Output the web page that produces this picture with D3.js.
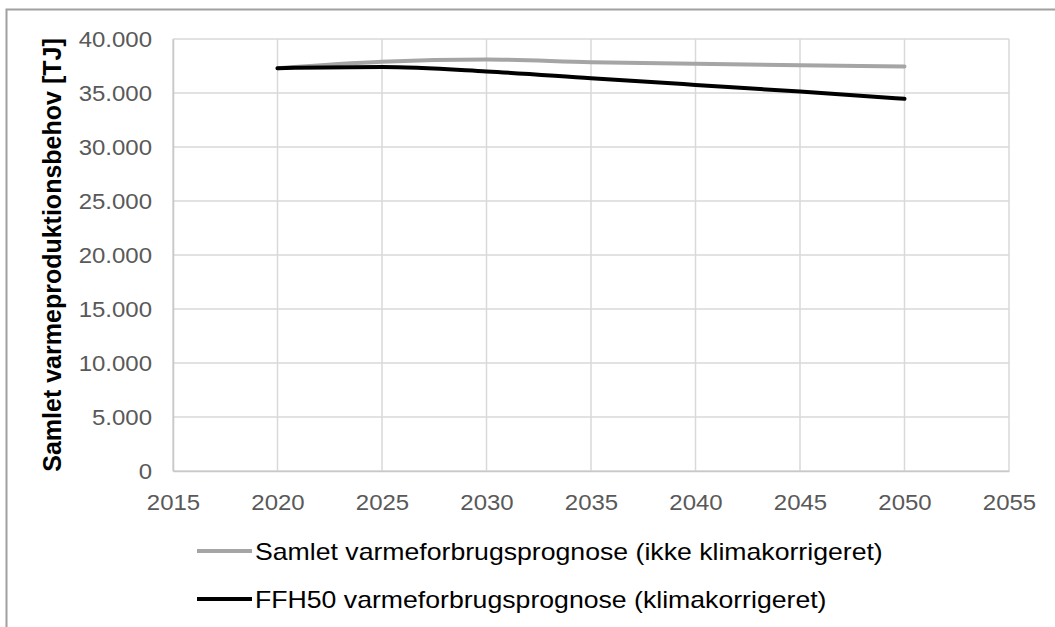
<!DOCTYPE html>
<html>
<head>
  <meta charset="utf-8">
  <title>Varmeforbrugsprognose</title>
  <script src="https://cdn.jsdelivr.net/npm/d3@7/dist/d3.min.js"></script>
  <style>
    body { margin: 0; background: #fff; }
    text { font-family: "Liberation Sans", Arial, sans-serif; }
    .tick text { fill: #595959; font-size: 22px; }
  </style>
</head>
<body>
  <svg id="chart" width="1055" height="627"></svg>

  <script>
    // data
    var years = [2020, 2025, 2030, 2035, 2040, 2045, 2050];
    var samlet = [37300, 37900, 38100, 37850, 37700, 37580, 37450];      // ikke klimakorrigeret
    var ffh50 = [37300, 37400, 37000, 36370, 35750, 35130, 34460];       // klimakorrigeret
    var seriesNames = [
      'Samlet varmeforbrugsprognose (ikke klimakorrigeret)',
      'FFH50 varmeforbrugsprognose (klimakorrigeret)'
    ];
    var seriesColors = ['#a5a5a5', '#000000'];
    var xTicks = [2015, 2020, 2025, 2030, 2035, 2040, 2045, 2050, 2055];
    var yTicks = [0, 5000, 10000, 15000, 20000, 25000, 30000, 35000, 40000];

    var svg = d3.select('#chart');

    // outer frame (only top and left edges visible)
    svg.append('path')
      .attr('d', 'M6.5,627V9.5H1055')
      .attr('fill', 'none')
      .attr('stroke', '#a0a0a0')
      .attr('stroke-width', 2);

    var x = d3.scaleLinear().domain([2015, 2055]).range([173, 1009]);
    var y = d3.scaleLinear().domain([0, 40000]).range([471, 39]);

    var fmt = d => d3.format(',')(d).replace(/,/g, '.');

    // gridlines
    svg.append('g')
      .selectAll('line')
      .data(xTicks)
      .enter().append('line')
      .attr('x1', d => x(d)).attr('x2', d => x(d))
      .attr('y1', y(40000)).attr('y2', y(0))
      .attr('stroke', '#d9d9d9').attr('stroke-width', 1.5);

    svg.append('g')
      .selectAll('line')
      .data(yTicks)
      .enter().append('line')
      .attr('x1', x(2015)).attr('x2', x(2055))
      .attr('y1', d => y(d)).attr('y2', d => y(d))
      .attr('stroke', '#d9d9d9').attr('stroke-width', 1.5);

    // axes
    var yAxis = svg.append('g')
      .attr('transform', 'translate(' + x(2015) + ',0)')
      .call(d3.axisLeft(y).tickValues(yTicks).tickFormat(fmt).tickSize(0).tickPadding(21));
    yAxis.select('.domain').attr('stroke', '#c8c8c8').attr('stroke-width', 1.5);

    var xAxis = svg.append('g')
      .attr('transform', 'translate(0,' + y(0) + ')')
      .call(d3.axisBottom(x).tickValues(xTicks).tickFormat(d3.format('d')).tickSize(0).tickPadding(23));
    xAxis.select('.domain').attr('stroke', '#c8c8c8').attr('stroke-width', 1.5);

    // lines
    var line = d3.line()
      .x((d, i) => x(years[i]))
      .y(d => y(d))
      .curve(d3.curveMonotoneX);

    [samlet, ffh50].forEach((s, i) => {
      svg.append('path')
        .datum(s)
        .attr('d', line)
        .attr('fill', 'none')
        .attr('stroke', seriesColors[i])
        .attr('stroke-width', 4)
        .attr('stroke-linecap', 'round');
    });

    // y axis title
    svg.append('text')
      .attr('transform', 'translate(61,255) rotate(-90)')
      .attr('text-anchor', 'middle')
      .attr('font-size', 25)
      .attr('font-weight', 'bold')
      .attr('fill', '#000')
      .text('Samlet varmeproduktionsbehov [TJ]');

    // legend
    var legend = svg.append('g')
      .selectAll('g')
      .data(seriesNames)
      .enter().append('g')
      .attr('transform', (d, i) => 'translate(197,' + (551 + i * 48) + ')');

    legend.append('line')
      .attr('x1', 0).attr('x2', 55)
      .attr('stroke', (d, i) => seriesColors[i])
      .attr('stroke-width', 4);

    legend.append('text')
      .attr('class', 'legend-label')
      .attr('x', 58)
      .attr('dy', '0.36em')
      .attr('font-size', 24)
      .attr('fill', '#000')
      .text(d => d);

    // the original text is a bit wider than Arial
    function widen(sel, k) {
      sel.each(function () {
        var w = this.getComputedTextLength();
        d3.select(this)
          .attr('textLength', w * k)
          .attr('lengthAdjust', 'spacingAndGlyphs');
      });
    }
    widen(svg.selectAll('.tick text'), 1.09);
    widen(svg.selectAll('text.legend-label'), 1.11);
  </script>
</body>
</html>
